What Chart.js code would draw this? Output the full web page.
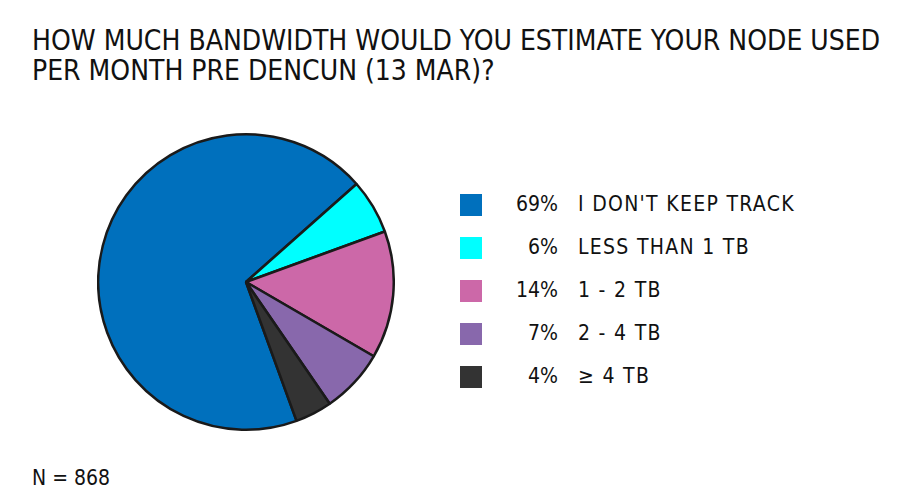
<!DOCTYPE html>
<html>
<head>
<meta charset="utf-8">
<title>Bandwidth pre Dencun</title>
<script src="https://cdn.jsdelivr.net/npm/chart.js"></script>
<style>
  html, body { margin: 0; padding: 0; background: #fff; }
  #page { position: relative; width: 901px; height: 495px; overflow: hidden;
          font-family: "DejaVu Sans Condensed", "DejaVu Sans", sans-serif; color: #111; }
  #title { position: absolute; left: 32px; top: 26px; font-size: 28px; line-height: 30px;
           white-space: nowrap; }
  #pie-box { position: absolute; left: 97px; top: 132px; width: 298px; height: 300px; }
  #legend { position: absolute; left: 460px; top: 194px; }
  .row { position: relative; height: 43px; }
  .sw { position: absolute; left: 0; top: 0; width: 22px; height: 22px; }
  .pct { position: absolute; left: 30px; width: 68px; top: -2px; text-align: right; font-size: 21px; }
  .lab { position: absolute; left: 118px; top: -2px; font-size: 21px; letter-spacing: 1.3px; white-space: nowrap; }
  #n { position: absolute; left: 32px; top: 466px; font-size: 21px; }
</style>
</head>
<body>
<div id="page">
  <div id="title">HOW MUCH BANDWIDTH WOULD YOU ESTIMATE YOUR NODE USED<br>PER MONTH PRE DENCUN (13 MAR)?</div>
  <div id="pie-box"><canvas id="pie"></canvas></div>
  <div id="legend"></div>
  <div id="n"></div>
</div>
<script>
  // survey answers, counts out of N
  const labels = ["I DON'T KEEP TRACK", "LESS THAN 1 TB", "1 - 2 TB", "2 - 4 TB", "\u2265 4 TB"];
  const counts = [599, 52, 121, 61, 35];
  const colors = ["#0070bd", "#00ffff", "#cc68a8", "#8868ac", "#333333"];

  const total = counts.reduce((a, b) => a + b, 0);

  // legend built from the same arrays
  const legend = document.getElementById("legend");
  labels.forEach((lab, i) => {
    const row = document.createElement("div");
    row.className = "row";
    row.innerHTML = `<div class="sw" style="background:${colors[i]}"></div>` +
      `<div class="pct">${Math.round(counts[i] / total * 100)}%</div>` +
      `<div class="lab">${lab}</div>`;
    legend.appendChild(row);
  });
  document.getElementById("n").textContent = "N = " + total;

  new Chart(document.getElementById("pie"), {
    type: "pie",
    data: {
      labels: labels,
      datasets: [{
        data: counts,
        backgroundColor: colors,
        borderColor: "#1a1a1a",
        borderWidth: 2.5
      }]
    },
    options: {
      responsive: true,
      maintainAspectRatio: false,
      animation: false,
      rotation: 160,
      layout: { padding: 0 },
      plugins: { legend: { display: false }, tooltip: { enabled: false } }
    }
  });
</script>
</body>
</html>
